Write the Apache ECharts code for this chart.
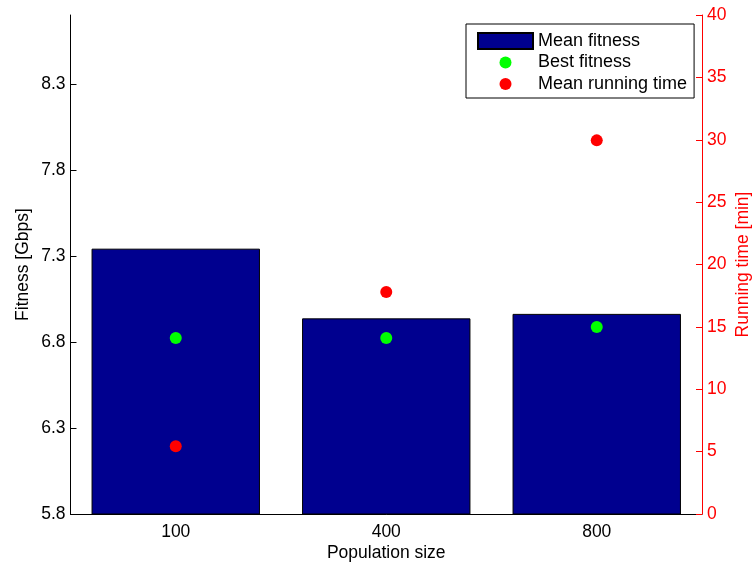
<!DOCTYPE html>
<html>
<head>
<meta charset="utf-8">
<script src="https://cdn.jsdelivr.net/npm/echarts@6/dist/echarts.min.js"></script>
<style>html,body{margin:0;padding:0;background:#fff}#c{width:752px;height:564px}</style>
</head>
<body>
<div id="c"></div>
<script>
const categories = ['100', '400', '800'];
const meanFitness = [7.342, 6.937, 6.963];
const bestFitness = [6.823, 6.823, 6.887];
const meanRunningTime = [5.43, 17.8, 29.95];
const leftTicks = [5.8, 6.3, 6.8, 7.3, 7.8, 8.3];

const FONT = 'Liberation Sans';
const FS = 17.5;
const dotIcon = 'path://M0 0M55 16M21.5 8A6 6 0 1 1 33.5 8A6 6 0 1 1 21.5 8Z';
const chart = echarts.init(document.getElementById('c'));
chart.setOption({
  animation: false,
  backgroundColor: '#fff',
  grid: { left: 70.5, right: 50, top: 15, bottom: 50, containLabel: false, outerBoundsMode: 'none' },
  legend: {
    orient: 'vertical',
    left: 466, top: 24,
    padding: [8, 7, 5, 11],
    borderColor: '#000', borderWidth: 1, backgroundColor: '#fff',
    itemWidth: 55, itemHeight: 16, itemGap: 3.5,
    textStyle: { fontFamily: FONT, fontSize: 18, color: '#000', lineHeight: 18, padding: [0,0,0,0] },
    data: [
      { name: 'Mean fitness', icon: 'rect' },
      { name: 'Best fitness', icon: dotIcon },
      { name: 'Mean running time', icon: dotIcon }
    ]
  },
  xAxis: {
    type: 'category', data: categories,
    name: 'Population size', nameLocation: 'middle', nameGap: 30, nameMoveOverlap: false,
    nameTextStyle: { fontFamily: FONT, fontSize: FS, color: '#000' },
    axisLine: { lineStyle: { color: '#000', width: 1 } },
    axisTick: { inside: true, alignWithLabel: true, length: 6, lineStyle: { color: '#000' } },
    axisLabel: { fontFamily: FONT, fontSize: FS, color: '#000', margin: 9 }
  },
  yAxis: [{
    type: 'value', min: 5.8, max: 8.7, position: 'left',
    name: 'Fitness [Gbps]', nameLocation: 'middle', nameGap: 38.5, nameMoveOverlap: false,
    nameTextStyle: { fontFamily: FONT, fontSize: FS, color: '#000' },
    axisLine: { show: true, lineStyle: { color: '#000', width: 1 } },
    axisTick: { show: true, inside: true, length: 6, customValues: leftTicks, lineStyle: { color: '#000' } },
    axisLabel: { fontFamily: FONT, fontSize: FS, color: '#000', margin: 5, customValues: leftTicks,
      formatter: v => v.toFixed(1) },
    splitLine: { show: false }
  }, {
    type: 'value', min: 0, max: 40, interval: 5, position: 'right',
    name: 'Running time [min]', nameLocation: 'middle', nameGap: 32, nameRotate: 90, nameMoveOverlap: false,
    nameTextStyle: { fontFamily: FONT, fontSize: FS, color: '#ff0000' },
    axisLine: { show: true, lineStyle: { color: '#ff0000', width: 1 } },
    axisTick: { show: true, inside: true, length: 6, lineStyle: { color: '#ff0000' } },
    axisLabel: { fontFamily: FONT, fontSize: FS, color: '#ff0000', margin: 5 },
    splitLine: { show: false }
  }],
  series: [{
    name: 'Mean fitness', type: 'bar', data: meanFitness, barWidth: '80%',
    itemStyle: { color: '#00008F', borderColor: '#000', borderWidth: 1 }
  }, {
    name: 'Best fitness', type: 'scatter', data: bestFitness, yAxisIndex: 0,
    symbol: 'circle', symbolSize: 12, itemStyle: { color: '#00ff00', opacity: 1 }
  }, {
    name: 'Mean running time', type: 'scatter', data: meanRunningTime, yAxisIndex: 1,
    symbol: 'circle', symbolSize: 12, itemStyle: { color: '#ff0000', opacity: 1 }
  }]
});
</script>
</body>
</html>
